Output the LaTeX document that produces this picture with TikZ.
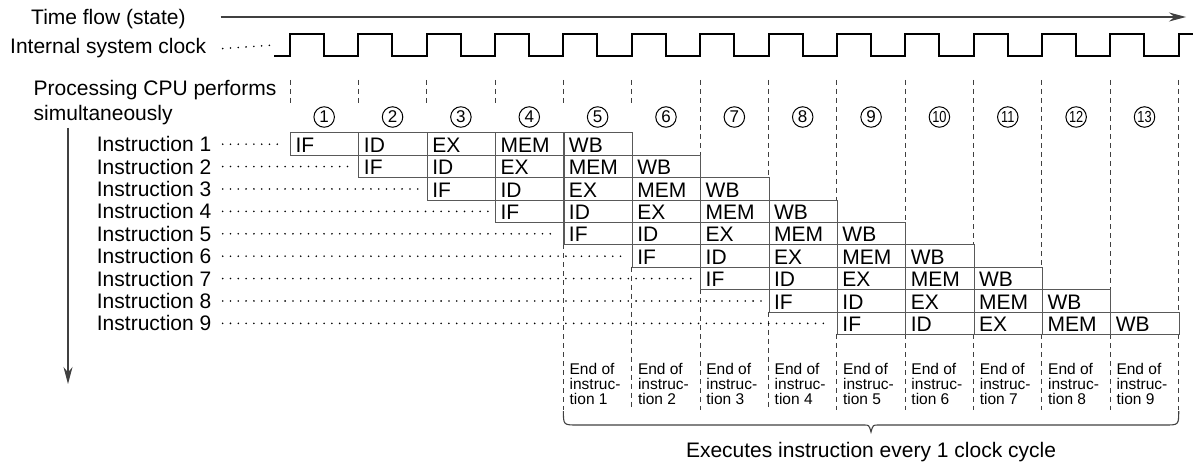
\documentclass[tikz,border=0pt]{standalone}
\usepackage{fontspec}
\setmainfont{Liberation Sans}
\newfontfamily\narrowfont[FakeStretch=0.8]{Liberation Sans}
\usetikzlibrary{arrows.meta}

\begin{document}
\begin{tikzpicture}[x=1pt,y=-1pt,
    lbl/.style={inner sep=0pt, font=\fontsize{21}{24.3}\selectfont},
    endlbl/.style={inner sep=0pt, anchor=north west, align=left, font=\fontsize{15.5}{15}\selectfont},
    stage/.style={draw=black!65, line width=1.1pt, anchor=north west, inner xsep=5pt, inner ysep=0pt,
        text width=58.36pt, minimum height=22.4pt, align=left, text height=16.4pt, text depth=0pt,
        font=\fontsize{21}{21}\selectfont},
    numc/.style={circle, draw, line width=1pt, minimum size=20.5pt, inner sep=0pt},
    leader/.style={line width=1.8pt, line cap=round, dash pattern=on 0pt off 7.8pt},
    grid/.style={draw=black!75, line width=1pt, dash pattern=on 5pt off 4pt},
    clk/.style={line width=2pt},
    flow/.style={draw=black!75, line width=1.1pt, -{Stealth[length=17pt,width=9pt]}}]
  \useasboundingbox (0,0) rectangle (1193,465);
  \coordinate (lead) at (222.7,0);

  % time and clock
  \node[lbl, anchor=base west] (tflow) at (31,25) {Time flow (state)};
  \coordinate (tfstart) at (220.5,17);
  \coordinate (tfend) at (1186,17);
  \draw[flow] (tfstart) -- (tfend);
  \node[lbl, anchor=base west] (clock) at (10,54) {Internal system clock};
  \coordinate (clkstart) at (274,45);
  \draw[leader] (clock.east -| lead) -- (clkstart);
  \draw[clk] (274,56)
    foreach \i [evaluate=\i as \x using 290+68.36*\i] in {0,...,12} {
      -- (\x,56) -- (\x,34) -- (\x+34,34) -- (\x+34,56)}
    -- (1178.7,56) -- (1178.7,34) -- (1194,34);

  % cycle numbers and grid
  \node[lbl, anchor=north west, align=left] (cpu) at (33.5,80.5) {Processing CPU performs\\simultaneously};
  \foreach \i in {1,...,9}
    \node[numc, font=\fontsize{17}{17}\selectfont] (n\i) at ({290+68.36*(\i-0.5)},117) {\i};
  \foreach \i in {10,...,13}
    \node[numc, font=\narrowfont\fontsize{16}{16}\selectfont] (n\i) at ({290+68.36*(\i-0.5)},117) {\i};
  \foreach \i in {0,...,5}
    \draw[grid] ({290+68.36*\i},80) -- ({290+68.36*\i},106);
  \foreach \i in {6,...,13}
    \draw[grid] ({290+68.36*\i},80) -- ({290+68.36*\i},{132.3+22.4*(\i-5)});
  \foreach \i in {4,...,13}
    \draw[grid] ({290+68.36*\i},{132.3+22.4*min(\i+1,9)}) -- ({290+68.36*\i},410);

  % instructions
  \foreach \k in {1,...,9} {
    \pgfmathsetmacro\cy{132.3+22.4*(\k-1)}
    \foreach \st [count=\j from 0] in {IF,ID,EX,MEM,WB}
      \node[stage] (s\k-\j) at ({290+68.36*(\k-1+\j)},\cy) {\st};
    \node[lbl, anchor=base east] (ins\k) at (211.5,\cy+19.4) {Instruction \k};
    \draw[leader] (ins\k.east -| lead) -- ([xshift=-6pt]ins\k.east -| s\k-0.west);
    \node[endlbl] (e\k) at ({290+68.36*(\k+3)+6},363) {End of\\instruc-\\tion \k};
  }
  \coordinate (ordtop) at (68,128);
  \coordinate (ordend) at (68,384);
  \draw[flow] (ordtop) -- (ordend);

  % brace
  \draw[draw=black!75, line width=1.1pt] (563.4,411) .. controls (563.4,425) .. (577.4,425) -- (864,425)
    .. controls (869,425) .. (871,432) .. controls (873,425) .. (878,425) -- (1164.7,425)
    .. controls (1178.7,425) .. (1178.7,411);
  \node[lbl, anchor=base] (every) at (871,457) {Executes instruction every 1 clock cycle};
\end{tikzpicture}
\end{document}
